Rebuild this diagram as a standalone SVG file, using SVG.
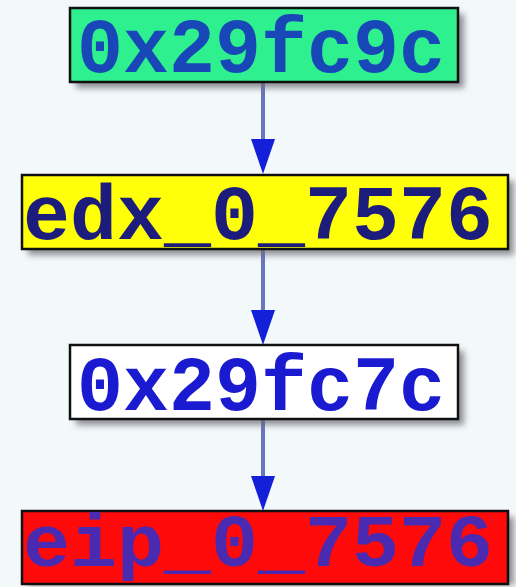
<svg xmlns="http://www.w3.org/2000/svg" width="516" height="587" viewBox="0 0 516 587">
  <defs>
    <filter id="shadow" x="-10%" y="-30%" width="130%" height="170%">
      <feGaussianBlur stdDeviation="3"/>
    </filter>
  </defs>
  <style>
    .bg { fill: #f3f8fb; }
    .box { stroke: #101010; stroke-width: 2.5; }
    .shade { fill: #6a6a70; opacity: 0.75; filter: url(#shadow); }
    .label { font-family: "Liberation Mono", "DejaVu Sans Mono", monospace; font-weight: bold; font-size: 78px; }
    .edge { stroke: #6878c0; stroke-width: 4; fill: none; }
    .arrowhead { fill: #1420d8; }
  </style>

  <rect class="bg" x="0" y="0" width="516" height="587"/>

  <!-- connectors -->
  <g id="edges">
    <line class="edge" x1="263" y1="82" x2="263" y2="140"/>
    <path class="arrowhead" d="M251,139 L275,139 L263,174 Z"/>
    <line class="edge" x1="263" y1="249" x2="263" y2="311"/>
    <path class="arrowhead" d="M251,310 L275,310 L263,345 Z"/>
    <line class="edge" x1="263" y1="419" x2="263" y2="477"/>
    <path class="arrowhead" d="M251,476 L275,476 L263,511 Z"/>
  </g>

  <!-- nodes -->
  <g id="n1">
    <rect class="shade" x="76" y="14" width="388" height="74"/>
    <rect class="box" x="70" y="8" width="388" height="74" fill="#2ef08e"/>
    <text class="label" x="77" y="72" textLength="368" lengthAdjust="spacingAndGlyphs" fill="#1848b8">0x29fc9c</text>
  </g>

  <g id="n2">
    <rect class="shade" x="28" y="181" width="486" height="74"/>
    <rect class="box" x="22" y="175" width="486" height="74" fill="#ffff0a"/>
    <text class="label" x="23" y="239" textLength="470" lengthAdjust="spacingAndGlyphs" fill="#1c1c7c">edx_0_7576</text>
  </g>

  <g id="n3">
    <rect class="shade" x="76" y="351" width="388" height="74"/>
    <rect class="box" x="70" y="345" width="388" height="74" fill="#ffffff"/>
    <text class="label" x="77" y="410" textLength="368" lengthAdjust="spacingAndGlyphs" fill="#1a1ad0">0x29fc7c</text>
  </g>

  <g id="n4">
    <rect class="shade" x="28" y="517" width="486" height="68"/>
    <rect class="box" x="22" y="511" width="486" height="73" fill="#ff0a0a"/>
    <text class="label" x="23" y="566" textLength="470" lengthAdjust="spacingAndGlyphs" fill="#4a2ab0" style="font-size:74px">eip_0_7576</text>
  </g>
</svg>
